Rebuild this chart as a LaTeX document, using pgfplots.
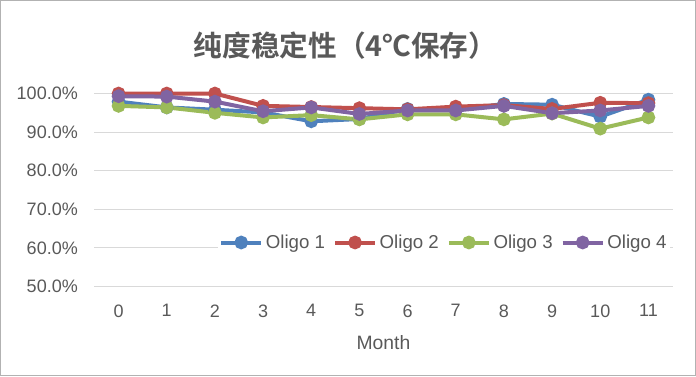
\documentclass[border=0pt]{standalone}
\usepackage{pgfplots}
\pgfplotsset{compat=1.18}
\usepackage{fontspec}
\setmainfont{Liberation Sans}
\newfontfamily\cjk{Noto Sans CJK SC}[BoldFont={Noto Sans CJK SC Bold}]
\definecolor{txt}{HTML}{595959}
\definecolor{grd}{HTML}{D9D9D9}
\definecolor{c1}{HTML}{4F81BD}
\definecolor{c2}{HTML}{C0504D}
\definecolor{c3}{HTML}{9BBB59}
\definecolor{c4}{HTML}{8064A2}
\begin{document}
\begin{tikzpicture}[x=1pt,y=1pt]
\begin{axis}[
  at={(0pt,0pt)}, anchor=south west,
  scale only axis, width=433.5pt, height=144.75pt,
  xmin=-0.5, xmax=11.5, ymin=50, ymax=100,
  xtick={0,...,11}, ytick={50,60,...,100},
  yticklabel={\pgfmathprintnumber[fixed,fixed zerofill,precision=1]{\tick}\%},
  ymajorgrids, grid style={grd, line width=0.75pt},
  axis line style={draw=none}, major tick length=0pt,
  tick label style={font=\fontsize{13.5}{16}\selectfont, text=txt},
  /pgf/number format/assume math mode=true,
  yticklabel style={xshift=-9pt},
  xticklabel style={yshift=-10pt},
  xlabel={Month}, xlabel style={font=\fontsize{14.5}{17}\selectfont, text=txt, yshift=-7pt},
  clip=false,
  every axis plot/.append style={line width=3pt, mark=*, mark size=3.6pt},
  legend style={at={(0.997,0.228)}, anchor=east, draw=none, fill=white,
    font=\fontsize{14}{17}\selectfont, text=txt, legend columns=4,
    inner xsep=1pt, inner ysep=1pt,
    /tikz/every even column/.append style={column sep=4pt}},
  legend image code/.code={
    \draw[#1, mark=none] (0pt,0pt) -- (30pt,0pt);
    \fill[#1] (15pt,0pt) circle (3.6pt);
  },
]
\addplot[c1] coordinates {(0,97.9)(1,96.4)(2,95.8)(3,95.1)(4,92.8)(5,93.4)(6,96.0)(7,95.7)(8,97.3)(9,97.1)(10,94.0)(11,98.4)};
\addlegendentry{Oligo 1}
\addplot[c2] coordinates {(0,100)(1,100)(2,100)(3,96.8)(4,96.5)(5,96.2)(6,95.9)(7,96.6)(8,97.0)(9,96.0)(10,97.6)(11,97.5)};
\addlegendentry{Oligo 2}
\addplot[c3] coordinates {(0,96.8)(1,96.4)(2,95.0)(3,93.8)(4,94.4)(5,93.3)(6,94.6)(7,94.6)(8,93.3)(9,94.8)(10,90.9)(11,93.8)};
\addlegendentry{Oligo 3}
\addplot[c4] coordinates {(0,99.3)(1,99.2)(2,97.9)(3,95.4)(4,96.4)(5,94.7)(6,95.6)(7,95.6)(8,96.8)(9,94.9)(10,95.6)(11,96.8)};
\addlegendentry{Oligo 4}
\end{axis}
\node[text=txt, font=\cjk\bfseries\fontsize{21.5}{25}\selectfont] at (188.25pt,180.75pt) {纯度稳定性（4℃保存）};
\draw[gray!60, line width=0.75pt] (-70.5pt,-66.75pt) rectangle (450.75pt,214.5pt);
\end{tikzpicture}
\end{document}
